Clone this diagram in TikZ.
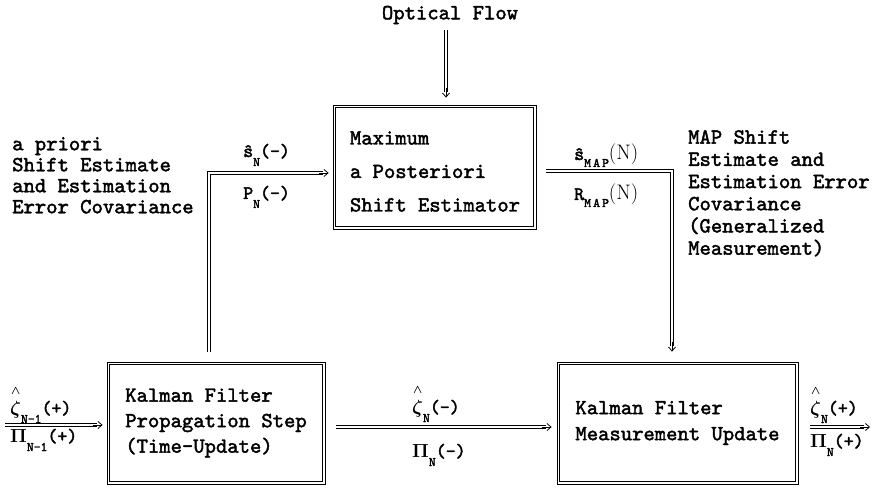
\RequirePackage{fix-cm}
\documentclass[tikz,border=0pt]{standalone}
\usepackage{bm}
\usepackage[no-math]{fontspec}
\newfontfamily\tb{lmmono10-regular.otf}[FakeBold=2]
\usetikzlibrary{arrows.meta,calc}
\newcommand\lsub[2][9pt]{\raisebox{-#1}{\fontsize{13}{13}\selectfont #2}}
\newcommand\hatz[1]{\vbox{\offinterlineskip\halign{\hfil##\hfil\cr{\fontsize{12}{12}\selectfont$\bm{\wedge}$}\cr\noalign{\kern6pt}#1\cr}}}
\begin{document}
\begin{tikzpicture}[x=1pt,y=-1pt,
  txt/.style={font=\fontsize{21.6}{22}\selectfont\tb, inner sep=0pt, align=left},
  lab/.style={font=\fontsize{19}{19}\selectfont\tb, inner sep=0pt, anchor=base west},
  ln/.style={line width=0.8pt},
  blk/.style={draw, ln, inner sep=0pt},
  tip/.style={ln, -{Straight Barb[length=4pt,width=7pt]}}]
\fill[white] (0,0) rectangle (872,489);
\useasboundingbox (0,0) rectangle (872,489);

% boxes
\node[blk, minimum width=203pt, minimum height=124pt] (map) at (434.5,167) {};
\node[txt, font=\fontsize{21.6}{33.5}\selectfont\tb] (maptxt) at (435,171.5) {Maximum\\a Posteriori\\Shift Estimator};
\node[blk, txt, font=\fontsize{21.6}{25.5}\selectfont\tb, minimum width=218pt, minimum height=122pt] (prop) at (216,423) {Kalman Filter\\Propagation Step\\(Time-Update)};
\node[blk, txt, font=\fontsize{21.6}{26}\selectfont\tb, minimum width=241pt, minimum height=122pt] (meas) at (677.5,423) {Kalman Filter\\Measurement Update};
\foreach \b in {map,prop,meas}
  \draw[ln] ([shift={(3,3)}]\b.north west) rectangle ([shift={(-3,-3)}]\b.south east);

% texts
\node[txt] (flow) at (450,15) {Optical Flow};
\node[txt, font=\fontsize{21.6}{21}\selectfont\tb, anchor=north west] (ltxt) at (12,137) {a priori\\Shift Estimate\\and Estimation\\Error Covariance};
\node[txt, font=\fontsize{21.6}{22.2}\selectfont\tb, anchor=north west] (rtxt) at (688,130) {MAP Shift\\Estimate and\\Estimation Error\\Covariance\\(Generalized\\Measurement)};

% connector end points
\coordinate (fA) at ([xshift=-4pt,yshift=-6pt]flow.south);
\coordinate (fB) at ($(fA |- map.north)+(0,-7)$);
\coordinate (pS) at ([xshift=-7pt,yshift=10pt]prop.north);
\coordinate (pE) at ([xshift=-4pt,yshift=-6pt]map.west);
\coordinate (pC) at (pS |- pE);
\coordinate (rS) at ([xshift=10pt,yshift=-4pt]map.east);
\coordinate (rE) at ([xshift=-5.5pt,yshift=10pt]meas.north);
\coordinate (rC) at (rS -| rE);
\coordinate (inL) at (5,425);
\coordinate (inE) at ([xshift=-4pt]inL -| prop.west);
\coordinate (mS) at ([xshift=11pt,yshift=-4pt]prop.east);
\coordinate (mE) at ([xshift=-5pt]mS -| meas.west);
\coordinate (outR) at (870,427);
\coordinate (oS) at ([xshift=12pt]outR -| meas.east);

% Optical flow -> MAP
\draw[ln] ($(fA)+(-1.5,0)$) -- ($(fB)+(-1.5,-6)$);
\draw[ln] ($(fA)+(1.5,0)$) -- ($(fB)+(1.5,-6)$);
\draw[tip] ($(fB)+(0,-10)$) -- (fB);
% propagation -> MAP
\draw[ln] ($(pS)+(-1.5,0)$) -- ($(pC)+(-1.5,-1.5)$) -- ($(pE)+(-6,-1.5)$);
\draw[ln] ($(pS)+(1.5,0)$) -- ($(pC)+(1.5,1.5)$) -- ($(pE)+(-6,1.5)$);
\draw[tip] ($(pE)+(-10,0)$) -- (pE);
% MAP -> measurement
\draw[ln] ($(rS)+(0,-1.5)$) -- ($(rC)+(1.5,-1.5)$) -- ($(rE)+(1.5,-6)$);
\draw[ln] ($(rS)+(0,1.5)$) -- ($(rC)+(-1.5,1.5)$) -- ($(rE)+(-1.5,-6)$);
\draw[tip] ($(rE)+(0,-10)$) -- (rE);
% input -> propagation
\draw[ln] ($(inL)+(0,-1.5)$) -- ($(inE)+(-6,-1.5)$);
\draw[ln] ($(inL)+(0,1.5)$) -- ($(inE)+(-6,1.5)$);
\draw[tip] ($(inE)+(-10,0)$) -- (inE);
% propagation -> measurement
\draw[ln] ($(mS)+(0,-1.5)$) -- ($(mE)+(-6,-1.5)$);
\draw[ln] ($(mS)+(0,1.5)$) -- ($(mE)+(-6,1.5)$);
\draw[tip] ($(mE)+(-10,0)$) -- (mE);
% measurement -> output
\draw[ln] ($(oS)+(0,-1.5)$) -- ($(outR)+(-6,-1.5)$);
\draw[ln] ($(oS)+(0,1.5)$) -- ($(outR)+(-6,1.5)$);
\draw[tip] ($(outR)+(-10,0)$) -- (outR);

% labels
\node[lab] (lsN) at (243,157) {\^{s}\lsub{N}(-)};
\node[lab] (lPN) at (243,199) {P\lsub{N}(-)};
\node[lab] (lsM) at (574,160) {\^{s}\lsub[7pt]{M\,A\,P}{\rmfamily\fontsize{21}{21}\selectfont(N)}};
\node[lab] (lRM) at (574,200) {R\lsub[7pt]{M\,A\,P}{\rmfamily\fontsize{21}{21}\selectfont(N)}};
\node[lab] (lzin) at (10,414) {\hatz{$\bm{\zeta}$}\lsub{N-1}(+)};
\node[lab] (lPin) at (10,442) {$\mathbf{\Pi}$\lsub{N-1}(+)};
\node[lab] (lzmid) at (412,413) {\hatz{$\bm{\zeta}$}\lsub{N}(-)};
\node[lab] (lPmid) at (412,457) {$\mathbf{\Pi}$\lsub{N}(-)};
\node[lab] (lzout) at (810,414) {\hatz{$\bm{\zeta}$}\lsub{N}(+)};
\node[lab] (lPout) at (810,447) {$\mathbf{\Pi}$\lsub{N}(+)};
\end{tikzpicture}
\end{document}
